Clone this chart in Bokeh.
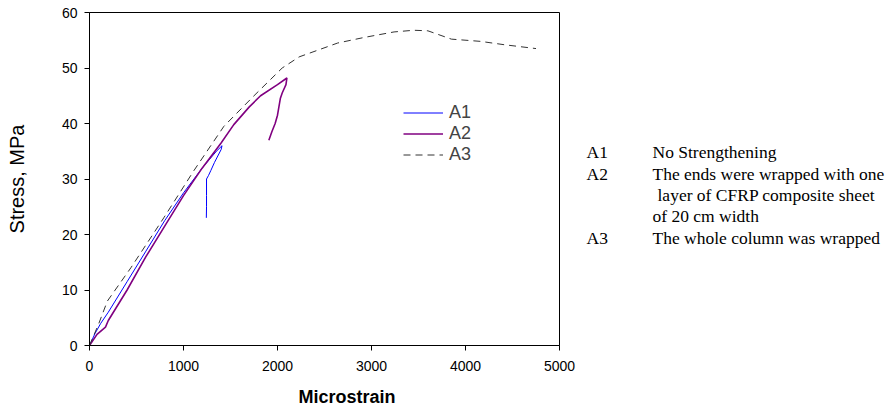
from bokeh.plotting import figure
from bokeh.layouts import row
from bokeh.models import Legend, LegendItem, Label, Range1d, FixedTicker, Title
from bokeh.embed import file_html
from bokeh.resources import INLINE

# Data
a1_strain = [0, 60, 120, 180, 200, 400, 600, 800, 1000, 1200, 1350, 1410, 1400, 1330, 1290, 1265, 1245, 1245, 1245, 1243]
a1_stress = [0, 2.2, 4.0, 5.5, 6.0, 11.5, 17.0, 22.5, 27.5, 32.0, 35.0, 36.0, 35.3, 33.0, 31.5, 30.6, 30.0, 27.0, 25.0, 23.0]

a2_strain = [0, 80, 170, 200, 400, 600, 800, 1000, 1200, 1400, 1535, 1700, 1820, 2000, 2100, 2090, 2050, 2030, 2015, 2000, 1975, 1940, 1908]
a2_stress = [0, 2.0, 3.3, 4.5, 10.0, 16.0, 21.5, 27.0, 32.0, 36.5, 39.8, 43.0, 45.0, 47.0, 48.2, 47.0, 45.5, 44.5, 43.0, 41.5, 40.0, 38.5, 37.0]

a3_strain = [0, 100, 190, 440, 790, 1110, 1430, 1750, 2050, 2230, 2640, 2920, 3240, 3450, 3600, 3850, 4160, 4410, 4750]
a3_stress = [0, 4.0, 8.0, 14.0, 23.0, 31.5, 39.5, 45.0, 50.0, 52.0, 54.5, 55.5, 56.5, 56.8, 56.7, 55.2, 54.8, 54.2, 53.5]

series_names = ["A1", "A2", "A3"]
note_tags = ["A1", "A2", "", "", "A3"]
note_texts = [
    "No Strengthening",
    "The ends were wrapped with one",
    "layer of CFRP composite sheet",
    "of 20 cm width",
    "The whole column was wrapped",
]
x_ticks = [0, 1000, 2000, 3000, 4000, 5000]
y_ticks = [0, 10, 20, 30, 40, 50, 60]

p = figure(width=580, height=417, output_backend="svg", toolbar_location=None,
           x_range=Range1d(0, 5000), y_range=Range1d(0, 60),
           min_border_left=89, min_border_right=21, min_border_top=12, min_border_bottom=71)
p.background_fill_color = "white"
p.border_fill_color = "white"
p.outline_line_color = "black"
p.outline_line_width = 1
p.grid.visible = False

r1 = p.line(a1_strain, a1_stress, line_color="#0000FF", line_width=1)
r2 = p.line(a2_strain, a2_stress, line_color="#800080", line_width=1.6)
r3 = p.line(a3_strain, a3_stress, line_color="#333333", line_width=1, line_dash="7 5")

for ax in (p.xaxis[0], p.yaxis[0]):
    ax.axis_line_color = "black"
    ax.major_tick_line_color = "black"
    ax.major_tick_out = 5
    ax.major_tick_in = 0
    ax.minor_tick_line_color = None
    ax.major_label_text_font = "Liberation Sans"
    ax.major_label_text_font_size = "14px"
    ax.major_label_text_color = "black"
    ax.axis_label_text_font = "Liberation Sans"
    ax.axis_label_text_font_style = "normal"
    ax.axis_label_text_color = "black"

p.xaxis.ticker = FixedTicker(ticks=x_ticks)
p.yaxis.ticker = FixedTicker(ticks=y_ticks)
p.xaxis.major_label_standoff = 10
p.yaxis.major_label_standoff = 7

p.yaxis.axis_label = "Stress, MPa"
p.yaxis.axis_label_text_font_size = "20px"
p.yaxis.axis_label_standoff = 31

# x-axis title placed as a Title so it can be offset horizontally like the reference
xtitle = Title(text="Microstrain", align="left", offset=209,
               text_font="Liberation Sans", text_font_size="18px",
               text_font_style="bold", text_color="black", standoff=22)
p.add_layout(xtitle, "below")

legend = Legend(items=[LegendItem(label=series_names[0], renderers=[r1]),
                       LegendItem(label=series_names[1], renderers=[r2]),
                       LegendItem(label=series_names[2], renderers=[r3])],
                location=(314, 180), padding=0, margin=0, spacing=0,
                glyph_width=40, glyph_height=21, label_height=21, label_standoff=6,
                label_text_font="Liberation Sans", label_text_font_size="18px",
                border_line_color=None, background_fill_alpha=0)
p.add_layout(legend, "center")

# side panel with the notes
q = figure(width=308, height=417, output_backend="svg", toolbar_location=None,
           x_range=Range1d(0, 308), y_range=Range1d(346, 12),
           min_border_left=0, min_border_right=0, min_border_top=12, min_border_bottom=71)
q.axis.visible = False
q.grid.visible = False
q.outline_line_color = None
q.background_fill_color = "white"
q.border_fill_color = "white"

note_ys = [152, 174, 195, 216, 238]
note_x = [72, 72, 77, 72, 72]
for tag, text, yy, xx in zip(note_tags, note_texts, note_ys, note_x):
    if tag:
        q.add_layout(Label(x=6, y=yy, text=tag, text_font="Liberation Serif",
                           text_font_size="17.5px", text_baseline="middle", text_color="black"))
    q.add_layout(Label(x=xx, y=yy, text=text, text_font="Liberation Serif",
                       text_font_size="17.5px", text_baseline="middle", text_color="black"))

layout = row(p, q)
open("out.html", "w").write(file_html(layout, INLINE))
